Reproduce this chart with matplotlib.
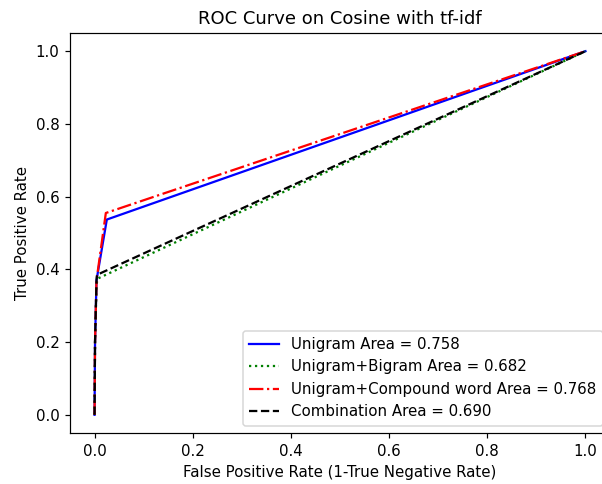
import matplotlib
matplotlib.use('Agg')
import matplotlib.pyplot as plt

# ROC points
uni_fpr = [0.0, 0.001, 0.004, 0.025, 1.0]
uni_tpr = [0.0, 0.20, 0.37, 0.537, 1.0]

bi_fpr = [0.0, 0.001, 0.004, 0.007, 1.0]
bi_tpr = [0.0, 0.20, 0.36, 0.375, 1.0]

comp_fpr = [0.0, 0.001, 0.004, 0.023, 1.0]
comp_tpr = [0.0, 0.20, 0.37, 0.555, 1.0]

comb_fpr = [0.0, 0.001, 0.004, 0.005, 1.0]
comb_tpr = [0.0, 0.20, 0.37, 0.385, 1.0]

labels = ['Unigram Area = 0.758', 'Unigram+Bigram Area = 0.682',
          'Unigram+Compound word Area = 0.768', 'Combination Area = 0.690']


def main():
    dpi = 108
    fig = plt.figure(figsize=(602 / dpi, 484 / dpi), dpi=dpi)
    ax = fig.add_axes([70 / 602, 1 - 433 / 484, 540 / 602, 400 / 484])

    ax.plot(uni_fpr, uni_tpr, 'b-', label=labels[0])
    ax.plot(bi_fpr, bi_tpr, 'g:', label=labels[1])
    ax.plot(comp_fpr, comp_tpr, 'r-.', label=labels[2])
    ax.plot(comb_fpr, comb_tpr, 'k--', label=labels[3])

    ax.set_xlim(-0.05, 1.05)
    ax.set_ylim(-0.05, 1.05)
    ax.set_title('ROC Curve on Cosine with tf-idf')
    ax.set_xlabel('False Positive Rate (1-True Negative Rate)')
    ax.set_ylabel('True Positive Rate')
    ax.legend(loc='lower right')

    fig.savefig('out.png', dpi=dpi)


if __name__ == "__main__":
    main()
